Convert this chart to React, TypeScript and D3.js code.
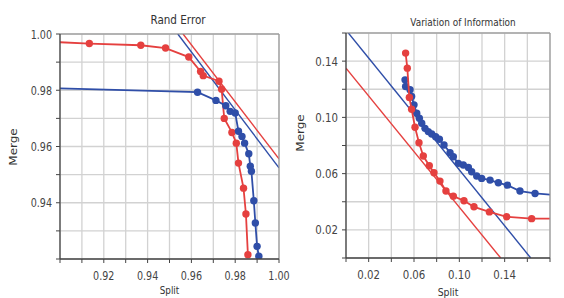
import React from "react";
import * as d3 from "d3";

// Rand Error panel
const randRedSplit = [0.885, 0.9134, 0.9369, 0.9482, 0.9588, 0.9642, 0.9654, 0.9726, 0.9738, 0.975, 0.9785, 0.9805, 0.9815, 0.9838, 0.9849, 0.9858];
const randRedMerge = [0.9976, 0.9966, 0.996, 0.995, 0.9918, 0.9867, 0.9852, 0.9832, 0.9804, 0.970, 0.965, 0.9612, 0.9541, 0.9452, 0.936, 0.9215];
const randBlueSplit = [0.885, 0.9628, 0.9712, 0.9757, 0.9777, 0.98, 0.9815, 0.9831, 0.9843, 0.9862, 0.9869, 0.9874, 0.9885, 0.9892, 0.99, 0.9908];
const randBlueMerge = [0.981, 0.9793, 0.9764, 0.9745, 0.9725, 0.9719, 0.9654, 0.9636, 0.9612, 0.9574, 0.953, 0.9512, 0.9407, 0.9328, 0.9245, 0.921];
const randRedFitSplit = [0.9562, 1.0];
const randRedFitMerge = [1.0, 0.9556];
const randBlueFitSplit = [0.9538, 1.0];
const randBlueFitMerge = [1.0, 0.9524];

// Variation of Information panel
const viRedSplit = [0.0526, 0.0541, 0.0559, 0.0579, 0.0609, 0.0644, 0.0682, 0.0735, 0.0776, 0.0829, 0.0882, 0.0947, 0.1041, 0.1129, 0.1265, 0.1418, 0.1638, 0.19];
const viRedMerge = [0.1457, 0.135, 0.1141, 0.1058, 0.093, 0.082, 0.0725, 0.0656, 0.0606, 0.0547, 0.0476, 0.044, 0.0407, 0.0364, 0.0328, 0.0293, 0.028, 0.028];
const viBlueSplit = [0.0521, 0.0526, 0.0565, 0.0579, 0.06, 0.0624, 0.0647, 0.0668, 0.0697, 0.0726, 0.0756, 0.0791, 0.0824, 0.0865, 0.0918, 0.0947, 0.0991, 0.1035, 0.108, 0.1109, 0.1153, 0.1197, 0.1271, 0.1344, 0.1424, 0.1535, 0.1668, 0.19];
const viBlueMerge = [0.1267, 0.122, 0.1196, 0.1148, 0.1089, 0.1029, 0.0994, 0.0958, 0.0922, 0.0899, 0.0882, 0.0863, 0.0844, 0.0804, 0.0749, 0.072, 0.0673, 0.0661, 0.0644, 0.0613, 0.0583, 0.0566, 0.0554, 0.0535, 0.0518, 0.0476, 0.0459, 0.0444];
const viRedFitSplit = [0.0, 0.1365];
const viRedFitMerge = [0.135, 0.0];
const viBlueFitSplit = [0.0021, 0.163];
const viBlueFitMerge = [0.16, 0.0];

const randXLabels = [0.92, 0.94, 0.96, 0.98, 1.0];
const randYLabels = [0.94, 0.96, 0.98, 1.0];
const viXLabels = [0.02, 0.06, 0.1, 0.14];
const viYLabels = [0.02, 0.06, 0.1, 0.14];

const RED = "#e5403f";
const BLUE = "#2f4ea8";
const FONT = "DejaVu Sans";

const zip = (xs, ys) => xs.map((x, i) => [x, ys[i]]);

const Panel = ({ id, box, xDomain, yDomain, xStep, yStep, xLabels, yLabels, series, fits, title, sx, titleSize, titleX, titleY, xLabelY, splitY, mergeX, mergeY }) => {
  const x = d3.scaleLinear().domain(xDomain).range([box.x0, box.x1]);
  const y = d3.scaleLinear().domain(yDomain).range([box.y1, box.y0]);
  const xTicks = d3.range(xDomain[0], xDomain[1] + xStep / 2, xStep);
  const yTicks = d3.range(yDomain[0], yDomain[1] + yStep / 2, yStep);
  const line = d3.line().x((d) => x(d[0])).y((d) => y(d[1]));
  const fmt = d3.format(".2f");
  return (
    <g>
      <defs>
        <clipPath id={id}>
          <rect x={box.x0} y={box.y0} width={box.x1 - box.x0} height={box.y1 - box.y0} />
        </clipPath>
      </defs>
      <rect x={box.x0} y={box.y0} width={box.x1 - box.x0} height={box.y1 - box.y0} fill="#fff" />
      {xTicks.map((t, i) => (
        <line key={"gx" + i} x1={x(t)} x2={x(t)} y1={box.y0} y2={box.y1} stroke="#d2d2d2" strokeWidth={1.3} />
      ))}
      {yTicks.map((t, i) => (
        <line key={"gy" + i} x1={box.x0} x2={box.x1} y1={y(t)} y2={y(t)} stroke="#d2d2d2" strokeWidth={1.3} />
      ))}
      <g clipPath={`url(#${id})`}>
        {fits.map((f, i) => (
          <path key={"f" + i} d={line(f.pts)} fill="none" stroke={f.color} strokeWidth={1.4} />
        ))}
        {series.map((s, i) => (
          <g key={"s" + i}>
            <path d={line(s.pts)} fill="none" stroke={s.color} strokeWidth={1.8} />
            {s.pts.map((p, j) => (
              <circle key={j} cx={x(p[0])} cy={y(p[1])} r={3.7} fill={s.color} />
            ))}
          </g>
        ))}
      </g>
      <line x1={box.x0} x2={box.x1} y1={box.y0} y2={box.y0} stroke="#8a8a8a" strokeWidth={1.2} />
      <line x1={box.x1} x2={box.x1} y1={box.y0} y2={box.y1} stroke="#9a9a9a" strokeWidth={1.2} />
      <line x1={box.x0} x2={box.x0} y1={box.y0} y2={box.y1} stroke="#444" strokeWidth={1.3} />
      <line x1={box.x0} x2={box.x1} y1={box.y1} y2={box.y1} stroke="#444" strokeWidth={1.3} />
      {xTicks.map((t, i) => (
        <line key={"tx" + i} x1={x(t)} x2={x(t)} y1={box.y1} y2={box.y1 + 4} stroke="#444" strokeWidth={1} />
      ))}
      {yTicks.map((t, i) => (
        <line key={"ty" + i} x1={box.x0 - 4} x2={box.x0} y1={y(t)} y2={y(t)} stroke="#444" strokeWidth={1} />
      ))}
      {xLabels.map((t, i) => (
        <text key={"lx" + i} transform={`translate(${x(t)},${xLabelY}) scale(${sx},1)`} textAnchor="middle" fontSize={12} fill="#444" fontFamily={FONT}>
          {fmt(t)}
        </text>
      ))}
      {yLabels.map((t, i) => (
        <text key={"ly" + i} transform={`translate(${box.x0 - 8},${y(t) + 4.5}) scale(${sx},1)`} textAnchor="end" fontSize={12} fill="#444" fontFamily={FONT}>
          {fmt(t)}
        </text>
      ))}
      <text transform={`translate(${titleX},${titleY}) scale(${sx},1)`} textAnchor="middle" fontSize={titleSize} fill="#333" fontFamily={FONT}>
        {title}
      </text>
      <text transform={`translate(${(box.x0 + box.x1) / 2},${splitY}) scale(${sx},1)`} textAnchor="middle" fontSize={11} fill="#333" fontFamily={FONT}>
        Split
      </text>
      <text transform={`translate(${mergeX},${mergeY}) rotate(-90) scale(1,${sx})`} textAnchor="middle" fontSize={12} fill="#333" fontFamily={FONT}>
        Merge
      </text>
    </g>
  );
};

export default function App() {
  return (
    <svg width={564} height={298} style={{ display: "block", position: "absolute", left: 0, top: 0, background: "#fff" }}>
      <Panel
        id="clipRand"
        box={{ x0: 60, x1: 279, y0: 34, y1: 259 }}
        xDomain={[0.9, 1.0]}
        yDomain={[0.92, 1.0]}
        xStep={0.01}
        yStep={0.01}
        xLabels={randXLabels}
        yLabels={randYLabels}
        series={[
          { color: RED, pts: zip(randRedSplit, randRedMerge) },
          { color: BLUE, pts: zip(randBlueSplit, randBlueMerge) },
        ]}
        fits={[
          { color: BLUE, pts: zip(randBlueFitSplit, randBlueFitMerge) },
          { color: RED, pts: zip(randRedFitSplit, randRedFitMerge) },
        ]}
        title="Rand Error"
        sx={0.8}
        titleSize={13}
        titleX={178}
        titleY={24}
        xLabelY={280}
        splitY={294}
        mergeX={17}
        mergeY={147}
      />
      <Panel
        id="clipVI"
        box={{ x0: 346, x1: 550, y0: 33, y1: 258 }}
        xDomain={[0, 0.18]}
        yDomain={[0, 0.16]}
        xStep={0.02}
        yStep={0.02}
        xLabels={viXLabels}
        yLabels={viYLabels}
        series={[
          { color: BLUE, pts: zip(viBlueSplit, viBlueMerge) },
          { color: RED, pts: zip(viRedSplit, viRedMerge) },
        ]}
        fits={[
          { color: RED, pts: zip(viRedFitSplit, viRedFitMerge) },
          { color: BLUE, pts: zip(viBlueFitSplit, viBlueFitMerge) },
        ]}
        title="Variation of Information"
        sx={0.85}
        titleSize={10.5}
        titleX={463}
        titleY={26}
        xLabelY={279}
        splitY={296}
        mergeX={304}
        mergeY={133}
      />
    </svg>
  );
}
